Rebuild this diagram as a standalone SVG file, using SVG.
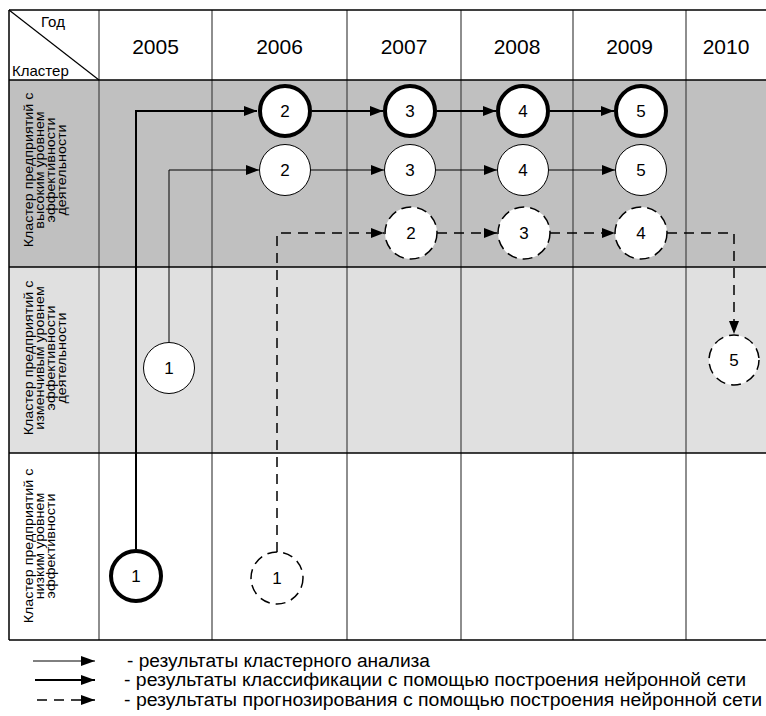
<svg xmlns="http://www.w3.org/2000/svg" width="766" height="716" viewBox="0 0 766 716">
  <style>
    text { font-family: "Liberation Sans", Arial, sans-serif; fill: #000; }
    .year { font-size: 21px; text-anchor: middle; }
    .hdr { font-size: 15px; }
    .rowlbl { font-size: 13px; text-anchor: middle; }
    .num { font-size: 17px; text-anchor: middle; }
    .legend { font-size: 18px; }
    .hline { stroke: #000; stroke-width: 1.5; fill: none; }
    .vline { stroke: #444; stroke-width: 1.2; fill: none; }
    .bold-node { fill: #fff; stroke: #000; stroke-width: 4; }
    .thin-node { fill: #fff; stroke: #000; stroke-width: 1; }
    .dash-node { fill: #fff; stroke: #000; stroke-width: 1.5; stroke-dasharray: 10 6; }
    .c-bold { stroke: #000; stroke-width: 2; fill: none; }
    .c-thin { stroke: #000; stroke-width: 1; fill: none; }
    .c-dash { stroke: #000; stroke-width: 1.5; fill: none; stroke-dasharray: 10 7; }
  </style>
  <defs>
    <marker id="arrow" viewBox="0 0 13 10" refX="13" refY="5" markerWidth="13" markerHeight="10" markerUnits="userSpaceOnUse" orient="auto">
      <path d="M0,0 L13,5 L0,10 z" fill="#000" stroke="none"/>
    </marker>
    <marker id="arrow-lg" viewBox="0 0 14 10" refX="14" refY="5" markerWidth="14" markerHeight="10" markerUnits="userSpaceOnUse" orient="auto">
      <path d="M0,0 L14,5 L0,10 z" fill="#000" stroke="none"/>
    </marker>
  </defs>

  <!-- table background bands -->
  <g id="table">
    <rect x="9" y="10" width="757" height="630" fill="#fff"/>
    <rect x="9" y="80" width="757" height="187" fill="#c0c0c0"/>
    <rect x="9" y="267" width="757" height="186" fill="#e0e0e0"/>

    <!-- column separators -->
    <path class="vline" d="M99,10 V640 M212,10 V640 M347,10 V640 M461,10 V640 M573,10 V640 M686,10 V640"/>
    <!-- row separators and outer frame -->
    <path class="hline" d="M9,10 H766 M9,80 H766 M9,267 H766 M9,453 H766 M9,640 H766 M9,10 V640"/>
    <!-- header corner diagonal -->
    <path d="M9,10 L99,80" stroke="#000" stroke-width="1.2"/>
    <text class="hdr" x="41" y="27">Год</text>
    <text class="hdr" x="12" y="76">Кластер</text>

    <text class="year" x="155.5" y="54">2005</text>
    <text class="year" x="279.5" y="54">2006</text>
    <text class="year" x="404" y="54">2007</text>
    <text class="year" x="517" y="54">2008</text>
    <text class="year" x="629.5" y="54">2009</text>
    <text class="year" x="726" y="54">2010</text>

    <!-- row labels -->
    <g transform="translate(0,170) rotate(-90) scale(1.1,1)">
      <text class="rowlbl" x="0" y="33">Кластер предприятий с</text>
      <text class="rowlbl" x="0" y="44">высоким уровнем</text>
      <text class="rowlbl" x="0" y="55">эффективности</text>
      <text class="rowlbl" x="0" y="66">деятельности</text>
    </g>
    <g transform="translate(0,358) rotate(-90) scale(1.1,1)">
      <text class="rowlbl" x="0" y="33">Кластер предприятий с</text>
      <text class="rowlbl" x="0" y="44">изменчивым уровнем</text>
      <text class="rowlbl" x="0" y="55">эффективности</text>
      <text class="rowlbl" x="0" y="66">деятельности</text>
    </g>
    <g transform="translate(0,546) rotate(-90) scale(1.1,1)">
      <text class="rowlbl" x="0" y="33">Кластер предприятий с</text>
      <text class="rowlbl" x="0" y="44">низким уровнем</text>
      <text class="rowlbl" x="0" y="55">эффективности</text>
    </g>
  </g>

  <!-- connectors -->
  <g id="connectors">
    <!-- classification (bold) -->
    <path class="c-bold" d="M136,549 V111 H257" marker-end="url(#arrow)"/>
    <path class="c-bold" d="M312,111 H383" marker-end="url(#arrow)"/>
    <path class="c-bold" d="M437,111 H496" marker-end="url(#arrow)"/>
    <path class="c-bold" d="M550,111 H614" marker-end="url(#arrow)"/>
    <!-- cluster analysis (thin) -->
    <path class="c-thin" d="M169,342 V170 H259" marker-end="url(#arrow)"/>
    <path class="c-thin" d="M310,170 H384" marker-end="url(#arrow)"/>
    <path class="c-thin" d="M435,170 H497" marker-end="url(#arrow)"/>
    <path class="c-thin" d="M548,170 H615" marker-end="url(#arrow)"/>
    <!-- forecasting (dashed) -->
    <path class="c-dash" d="M277,552 V233 H384" marker-end="url(#arrow)"/>
    <path class="c-dash" d="M437,233 H497" marker-end="url(#arrow)"/>
    <path class="c-dash" d="M550,233 H615" marker-end="url(#arrow)"/>
    <path class="c-dash" d="M667,233 H734 V334" marker-end="url(#arrow)"/>
  </g>

  <!-- classification nodes -->
  <g id="b1"><circle class="bold-node" cx="136" cy="576" r="25"/><text class="num" x="136" y="582">1</text></g>
  <g id="b2"><circle class="bold-node" cx="285" cy="111" r="25"/><text class="num" x="285" y="117">2</text></g>
  <g id="b3"><circle class="bold-node" cx="410" cy="111" r="25"/><text class="num" x="410" y="117">3</text></g>
  <g id="b4"><circle class="bold-node" cx="523" cy="111" r="25"/><text class="num" x="523" y="117">4</text></g>
  <g id="b5"><circle class="bold-node" cx="641" cy="111" r="25"/><text class="num" x="641" y="117">5</text></g>

  <!-- cluster analysis nodes -->
  <g id="t1"><circle class="thin-node" cx="169" cy="368" r="25.5"/><text class="num" x="169" y="374">1</text></g>
  <g id="t2"><circle class="thin-node" cx="285" cy="170" r="25.5"/><text class="num" x="285" y="176">2</text></g>
  <g id="t3"><circle class="thin-node" cx="410" cy="170" r="25.5"/><text class="num" x="410" y="176">3</text></g>
  <g id="t4"><circle class="thin-node" cx="523" cy="170" r="25.5"/><text class="num" x="523" y="176">4</text></g>
  <g id="t5"><circle class="thin-node" cx="641" cy="170" r="25.5"/><text class="num" x="641" y="176">5</text></g>

  <!-- forecasting nodes -->
  <g id="d1"><circle class="dash-node" cx="277" cy="578" r="26"/><text class="num" x="277" y="584">1</text></g>
  <g id="d2"><circle class="dash-node" cx="411" cy="233" r="26"/><text class="num" x="411" y="239">2</text></g>
  <g id="d3"><circle class="dash-node" cx="524" cy="233" r="26"/><text class="num" x="524" y="239">3</text></g>
  <g id="d4"><circle class="dash-node" cx="641" cy="233" r="26"/><text class="num" x="641" y="239">4</text></g>
  <g id="d5"><circle class="dash-node" cx="734" cy="360" r="25"/><text class="num" x="734" y="366">5</text></g>

  <!-- legend -->
  <g id="legend">
    <path class="c-thin" d="M33,661 H95" marker-end="url(#arrow-lg)"/>
    <text class="legend" x="127" y="667" textLength="303" lengthAdjust="spacingAndGlyphs">- результаты кластерного анализа</text>
    <path class="c-bold" d="M35,680 H95" marker-end="url(#arrow-lg)"/>
    <text class="legend" x="124" y="686" textLength="622" lengthAdjust="spacingAndGlyphs">- результаты классификации с помощью построения нейронной сети</text>
    <path class="c-dash" d="M37,700 H95" marker-end="url(#arrow-lg)"/>
    <text class="legend" x="124" y="706" textLength="638" lengthAdjust="spacingAndGlyphs">- результаты прогнозирования с помощью построения нейронной сети</text>
  </g>
</svg>
